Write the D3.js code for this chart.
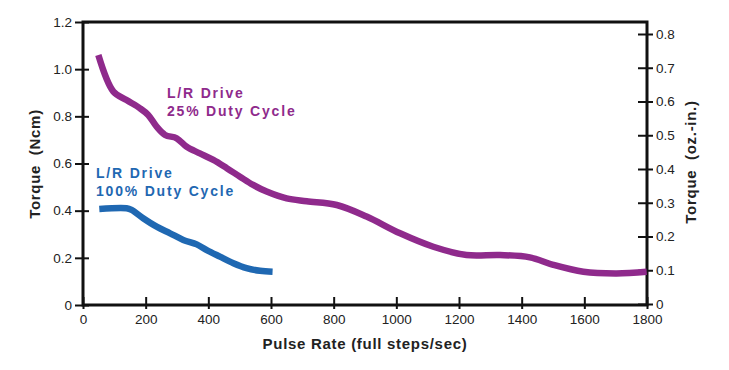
<!DOCTYPE html>
<html>
<head>
<meta charset="utf-8">
<script src="https://cdn.jsdelivr.net/npm/d3@7"></script>
<style>
    body { margin: 0; background: #fff; }
    svg text { font-family: "Liberation Sans", Arial, Helvetica, sans-serif; }
</style>
</head>
<body>
<div id="chart"></div>
<script>
const width = 729, height = 370;
const margin = { left: 83, right: 82, top: 22, bottom: 65 };

const PURPLE = '#8f2a8c';
const BLUE = '#1f68b2';

// pulse rate (full steps/sec) for each series
const pulse25 = [49, 97, 139, 182, 208, 235, 262, 299, 331, 373, 416, 459, 501, 543, 586, 650, 714, 810, 905, 1012, 1118, 1224, 1331, 1426, 1501, 1597, 1703, 1799];
// torque (Ncm), L/R drive 25% duty cycle
const torque25 = [1.06, 0.905, 0.869, 0.834, 0.806, 0.756, 0.721, 0.707, 0.671, 0.643, 0.615, 0.580, 0.544, 0.509, 0.481, 0.452, 0.440, 0.424, 0.375, 0.304, 0.247, 0.212, 0.212, 0.202, 0.170, 0.141, 0.134, 0.141];

const pulse100 = [52, 139, 155, 192, 235, 278, 320, 363, 395, 437, 480, 522, 565, 605];
// torque (Ncm), L/R drive 100% duty cycle
const torque100 = [0.407, 0.410, 0.403, 0.368, 0.332, 0.304, 0.276, 0.257, 0.233, 0.205, 0.177, 0.156, 0.145, 0.141];

const xTicks = [0, 200, 400, 600, 800, 1000, 1200, 1400, 1600, 1800];
const leftTicks = [0, 0.2, 0.4, 0.6, 0.8, 1.0, 1.2];
const rightTicks = [0, 0.1, 0.2, 0.3, 0.4, 0.5, 0.6, 0.7, 0.8];

const x = d3.scaleLinear().domain([0, 1800]).range([margin.left, width - margin.right]);
const y = d3.scaleLinear().domain([0, 1.2]).range([height - margin.bottom, margin.top]);
// oz.-in. scale sharing the same plot height
const yRight = d3.scaleLinear().domain([0, 0.8]).range([height - margin.bottom - 1, margin.top + 12]);

const svg = d3.select('#chart')
    .append('svg')
    .attr('width', width)
    .attr('height', height);

// frame
svg.append('rect')
    .attr('x', x(0))
    .attr('y', y(1.2))
    .attr('width', x(1800) - x(0))
    .attr('height', y(0) - y(1.2))
    .attr('fill', 'none')
    .attr('stroke', '#111')
    .attr('stroke-width', 3);

const fmtLeft = d => d === 0 ? '0' : d3.format('.1f')(d);

const yAxis = d3.axisLeft(y).tickValues(leftTicks).tickFormat(fmtLeft).tickSize(8).tickPadding(3);
const gy = svg.append('g').attr('transform', `translate(${x(0)},0)`).call(yAxis);

const yAxisR = d3.axisRight(yRight).tickValues(rightTicks).tickFormat(fmtLeft).tickSize(6).tickPadding(3);
const gyr = svg.append('g').attr('transform', `translate(${x(1800)},0)`).call(yAxisR);

const xAxis = d3.axisBottom(x).tickValues(xTicks).tickFormat(d3.format('d')).tickSize(4).tickPadding(5);
const gx = svg.append('g').attr('transform', `translate(0,${y(0)})`).call(xAxis);

[gy, gyr, gx].forEach(g => {
    g.select('.domain').remove();
    g.selectAll('.tick line').attr('stroke', '#111').attr('stroke-width', 2);
    g.selectAll('.tick text')
        .attr('fill', '#222')
        .style('font-size', '13.5px');
});

// ticks cross the axis lines
gy.selectAll('.tick line').attr('x1', 6);
gyr.selectAll('.tick line').attr('x1', -9);
gx.selectAll('.tick line').attr('y1', -8);

// axis titles
function axisTitle(transform, label) {
    svg.append('text')
        .attr('transform', transform)
        .attr('text-anchor', 'middle')
        .style('font-size', '15px')
        .style('font-weight', 'bold')
        .style('letter-spacing', '0.7px')
        .style('white-space', 'pre')
        .attr('fill', '#222')
        .text(label);
}

axisTitle(`translate(${(x(0) + x(1800)) / 2},349)`, 'Pulse Rate (full steps/sec)');
axisTitle(`translate(40,164) rotate(-90)`, 'Torque  (Ncm)');
axisTitle(`translate(696,162) rotate(-90)`, 'Torque  (oz.-in.)');

// curves
const line = d3.line()
    .x(d => x(d[0]))
    .y(d => y(d[1]))
    .curve(d3.curveCatmullRom.alpha(0.5));

svg.append('path')
    .datum(d3.zip(pulse25, torque25))
    .attr('d', line)
    .attr('fill', 'none')
    .attr('stroke', PURPLE)
    .attr('stroke-width', 6.5);

svg.append('path')
    .datum(d3.zip(pulse100, torque100))
    .attr('d', line)
    .attr('fill', 'none')
    .attr('stroke', BLUE)
    .attr('stroke-width', 6.5);

// labels
function addLabel(lines, px, py, color) {
    const t = svg.append('text')
        .attr('x', px)
        .attr('y', py)
        .attr('fill', color)
        .style('font-size', '14px')
        .style('font-weight', 'bold')
        .style('letter-spacing', '1.8px');
    lines.forEach((l, i) => {
        t.append('tspan').attr('x', px).attr('dy', i === 0 ? 0 : 18).text(l);
    });
}

addLabel(['L/R Drive', '25% Duty Cycle'], 167, 98, PURPLE);
addLabel(['L/R Drive', '100% Duty Cycle'], 96, 178, BLUE);
</script>
</body>
</html>
